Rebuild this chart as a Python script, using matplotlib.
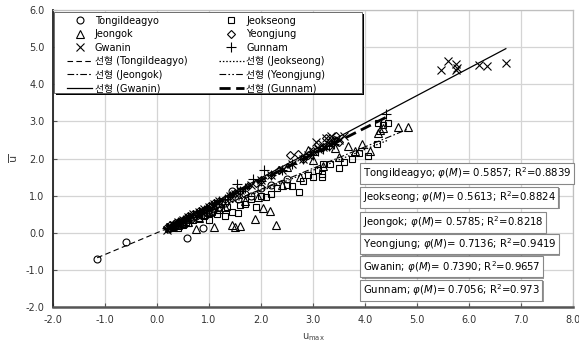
import matplotlib
matplotlib.use("Agg")
import matplotlib.pyplot as plt
from matplotlib.patches import Shadow, Rectangle
import numpy as np

plt.rcParams['font.family'] = ['DejaVu Sans', 'Noto Sans CJK KR']
plt.rcParams['mathtext.fontset'] = 'dejavusans'

# ---- data ----
names = ["Tongildeagyo", "Jeokseong", "Jeongok", "Yeongjung", "Gwanin", "Gunnam"]
phi = [0.5857, 0.5613, 0.5785, 0.7136, 0.7390, 0.7056]
r2 = ["0.8839", "0.8824", "0.8218", "0.9419", "0.9657", "0.973"]

tong_x = [-1.15, -0.6, 0.22, 0.25, 0.3, 0.33, 0.38, 0.42, 0.45, 0.5, 0.55, 0.57, 0.6, 0.65, 0.7, 0.75,
          0.8, 0.85, 0.88, 0.95, 1.0, 1.05, 1.1, 1.2, 1.3, 1.44, 1.55, 1.7, 1.8, 2.0, 2.2, 2.5]
tong_y = [-0.72, -0.25, 0.1, 0.12, 0.18, 0.2, 0.22, 0.28, 0.25, 0.3, 0.35, -0.13, 0.38, 0.36, 0.42, 0.45,
          0.5, 0.48, 0.14, 0.55, 0.6, 0.58, 0.65, 0.7, 0.8, 1.13, 0.9, 1.05, 1.0, 1.2, 1.3, 1.45]

jeok_x = [0.3, 0.35, 0.4, 0.45, 0.5, 0.55, 0.6, 0.7, 0.8, 0.9, 1.0, 1.05, 1.15, 1.2, 1.3, 1.35, 1.45, 1.56,
          1.6, 1.7, 1.8, 1.9, 2.0, 2.1, 2.2, 2.3, 2.5, 2.6, 2.73, 2.8, 2.9, 3.0, 3.1, 3.17, 3.17, 3.2,
          3.33, 3.5, 3.6, 3.75, 3.88, 4.06, 4.23, 4.25, 4.35, 4.44]
jeok_y = [0.15, 0.2, 0.12, 0.25, 0.2, 0.3, 0.25, 0.35, 0.4, 0.45, 0.35, 0.55, 0.5, 0.62, 0.45, 0.7, 0.55, 0.54,
          0.75, 0.78, 0.9, 0.7, 1.0, 0.95, 1.05, 1.2, 1.3, 1.25, 1.11, 1.4, 1.55, 1.5, 1.7, 1.58, 1.49, 1.86,
          1.86, 1.75, 1.9, 2.0, 2.16, 2.08, 2.38, 2.95, 2.9, 2.97]

jeon_x = [0.3, 0.4, 0.5, 0.6, 0.75, 0.8, 0.9, 1.0, 1.1, 1.2, 1.3, 1.45, 1.5, 1.6, 1.7, 1.88, 1.95, 2.04,
          2.17, 2.29, 2.4, 2.5, 2.75, 2.9, 3.0, 3.2, 3.42, 3.5, 3.67, 3.8, 3.95, 4.1, 4.25, 4.29, 4.35, 4.63, 4.83]
jeon_y = [0.15, 0.2, 0.25, 0.3, 0.1, 0.4, 0.5, 0.55, 0.15, 0.65, 0.7, 0.2, 0.15, 0.17, 0.85, 0.37, 0.95, 0.68,
          0.59, 0.22, 1.3, 1.76, 1.49, 2.24, 1.95, 1.8, 2.28, 2.05, 2.35, 2.2, 2.4, 2.2, 2.68, 2.76, 2.83, 2.84, 2.84]

yeong_x = [0.2, 0.25, 0.3, 0.35, 0.4, 0.45, 0.5, 0.55, 0.6, 0.7, 0.8, 0.9, 1.0, 1.1, 1.2, 1.3, 1.4, 1.5, 1.6,
           1.75, 1.9, 2.0, 2.2, 2.35, 2.56, 2.71, 2.8, 2.9, 3.0, 3.1, 3.2, 3.25, 3.3, 3.4, 3.45, 3.5]
yeong_y = [0.15, 0.2, 0.22, 0.25, 0.3, 0.33, 0.35, 0.4, 0.45, 0.5, 0.58, 0.62, 0.72, 0.8, 0.85, 0.9, 1.0, 1.08,
           1.12, 1.25, 1.35, 1.42, 1.55, 1.7, 2.1, 2.13, 2.0, 2.1, 2.2, 2.4, 2.3, 2.55, 2.35, 2.5, 2.6, 2.45]

gwan_x = [0.2, 0.25, 0.3, 0.4, 0.5, 0.6, 0.7, 0.8, 0.9, 1.0, 1.1, 1.2, 1.4, 1.5, 1.6, 1.8, 2.0, 2.2, 2.4, 2.6,
          2.8, 2.9, 3.0, 3.05, 3.1, 3.2, 3.25, 3.3, 3.35, 3.4, 3.5, 3.6,
          5.46, 5.6, 5.75, 5.75, 5.78, 6.19, 6.35, 6.71]
gwan_y = [0.08, 0.15, 0.2, 0.28, 0.35, 0.42, 0.5, 0.55, 0.65, 0.7, 0.78, 0.85, 1.0, 1.05, 1.15, 1.3, 1.42, 1.55,
          1.7, 1.85, 2.0, 2.1, 2.2, 2.45, 2.25, 2.3, 2.55, 2.4, 2.6, 2.45, 2.5, 2.6,
          4.38, 4.62, 4.54, 4.38, 4.45, 4.51, 4.49, 4.57]

gun_x = [0.2, 0.3, 0.4, 0.5, 0.6, 0.7, 0.8, 0.9, 1.0, 1.1, 1.2, 1.3, 1.4, 1.54, 1.6, 1.7, 1.85, 2.0, 2.06,
         2.2, 2.4, 2.6, 2.8, 3.0, 3.1, 3.2, 3.3, 3.4, 4.4]
gun_y = [0.12, 0.2, 0.28, 0.35, 0.42, 0.48, 0.55, 0.62, 0.7, 0.78, 0.85, 0.92, 1.0, 1.32, 1.12, 1.2, 1.46, 1.4,
         1.68, 1.55, 1.7, 1.85, 2.0, 2.1, 2.2, 2.25, 2.35, 2.4, 3.2]

xs = [tong_x, jeok_x, jeon_x, yeong_x, gwan_x, gun_x]
ys = [tong_y, jeok_y, jeon_y, yeong_y, gwan_y, gun_y]
markers = ['o', 's', '^', 'D', 'x', '+']
msizes = [5, 5, 5.5, 4.5, 6, 7]
line_styles = [(0, (5, 3)), (0, (1.2, 1.5)), (0, (6, 2, 1.5, 2)), (0, (6, 2, 1.5, 2, 1.5, 2)), '-', (0, (4, 2))]
line_widths = [0.8, 0.9, 0.8, 0.8, 0.9, 2.0]

fig = plt.figure(figsize=(5.79, 3.49), dpi=100)
ax = fig.add_axes([0.0915, 0.1203, 0.898, 0.851])

ax.set_xlim(-2, 8)
ax.set_ylim(-2, 6)
ax.set_xticks(np.arange(-2, 8.1, 1))
ax.set_yticks(np.arange(-2, 6.1, 1))
ax.xaxis.set_major_formatter(matplotlib.ticker.FormatStrFormatter('%.1f'))
ax.yaxis.set_major_formatter(matplotlib.ticker.FormatStrFormatter('%.1f'))
ax.grid(True, color='#d4d4d4', lw=0.9)
ax.set_axisbelow(True)
for s in ['top', 'right']:
    ax.spines[s].set_color('#bfbfbf')
    ax.spines[s].set_linewidth(0.9)
ax.spines['left'].set_color('#222222')
ax.spines['left'].set_linewidth(1.3)
ax.spines['bottom'].set_color('#555555')
ax.spines['bottom'].set_linewidth(1.8)
ax.tick_params(direction='in', length=3, width=0.8, colors='#555555', labelsize=7, labelcolor='#333333', pad=6)

mk_handles = []
ln_handles = []
for i in range(6):
    h, = ax.plot(xs[i], ys[i], linestyle='none', marker=markers[i], ms=msizes[i], mfc='none', mec='black',
                 mew=0.8, label=names[i], zorder=3)
    mk_handles.append(h)
for i in range(6):
    xx = np.array([min(xs[i]), max(xs[i])])
    h, = ax.plot(xx, phi[i] * xx, color='black', linestyle=line_styles[i], lw=line_widths[i],
                 label=f"선형 ({names[i]})", zorder=4)
    ln_handles.append(h)

# legend background box with shadow (offset ~2 px)
lx0, ly0, lx1, ly1 = 0.002, 0.7205, 0.594, 0.993
sdx, sdy = 2.0 / 520, 2.0 / 297
shadow_rect = Rectangle((lx0 + sdx, ly0 - sdy), lx1 - lx0, ly1 - ly0, transform=ax.transAxes,
                        fc='black', ec='none', zorder=8.9, clip_on=False)
ax.add_patch(shadow_rect)
frame = Rectangle((lx0, ly0), lx1 - lx0, ly1 - ly0, transform=ax.transAxes, fc='white', ec='#555555',
                  lw=0.6, zorder=9, clip_on=False)
ax.add_patch(frame)

order = [mk_handles[0], mk_handles[2], mk_handles[4], ln_handles[0], ln_handles[2], ln_handles[4],
         mk_handles[1], mk_handles[3], mk_handles[5], ln_handles[1], ln_handles[3], ln_handles[5]]
leg = ax.legend(handles=order, labels=[h.get_label() for h in order], ncol=2, loc='upper left',
                bbox_to_anchor=(0.014, 1.004), fontsize=7, frameon=False,
                labelspacing=0.36, handlelength=2.6,
                columnspacing=3.2, borderpad=0.2, handletextpad=0.25)
leg.set_zorder(10)

ax.set_xlabel(r'u$_{\mathregular{max}}$', fontsize=7, color='#444444', labelpad=4)
ax.set_ylabel(r'$\overline{\mathregular{u}}$', fontsize=8, color='#444444', labelpad=4)

ypos = [0.451, 0.370, 0.286, 0.212, 0.135, 0.057]
texts = []
for i in range(6):
    t = ax.text(0.596, ypos[i], f"{names[i]}; $\\varphi(M)$= {phi[i]:.4f}; R$^\\mathregular{{2}}$={r2[i]}",
                transform=ax.transAxes, fontsize=7.3, va='center', ha='left', zorder=6,
                bbox=dict(boxstyle='square,pad=0.25', fc='white', ec='#888888', lw=0.8))
    texts.append(t)

fig.canvas.draw()
for t in texts:
    p = t.get_bbox_patch()
    sh = Shadow(p, 1.0, -1.0, facecolor='#333333', edgecolor='none', zorder=5.5)
    sh.set_clip_on(False)
    ax.add_artist(sh)

fig.savefig('out.png', dpi=100)
